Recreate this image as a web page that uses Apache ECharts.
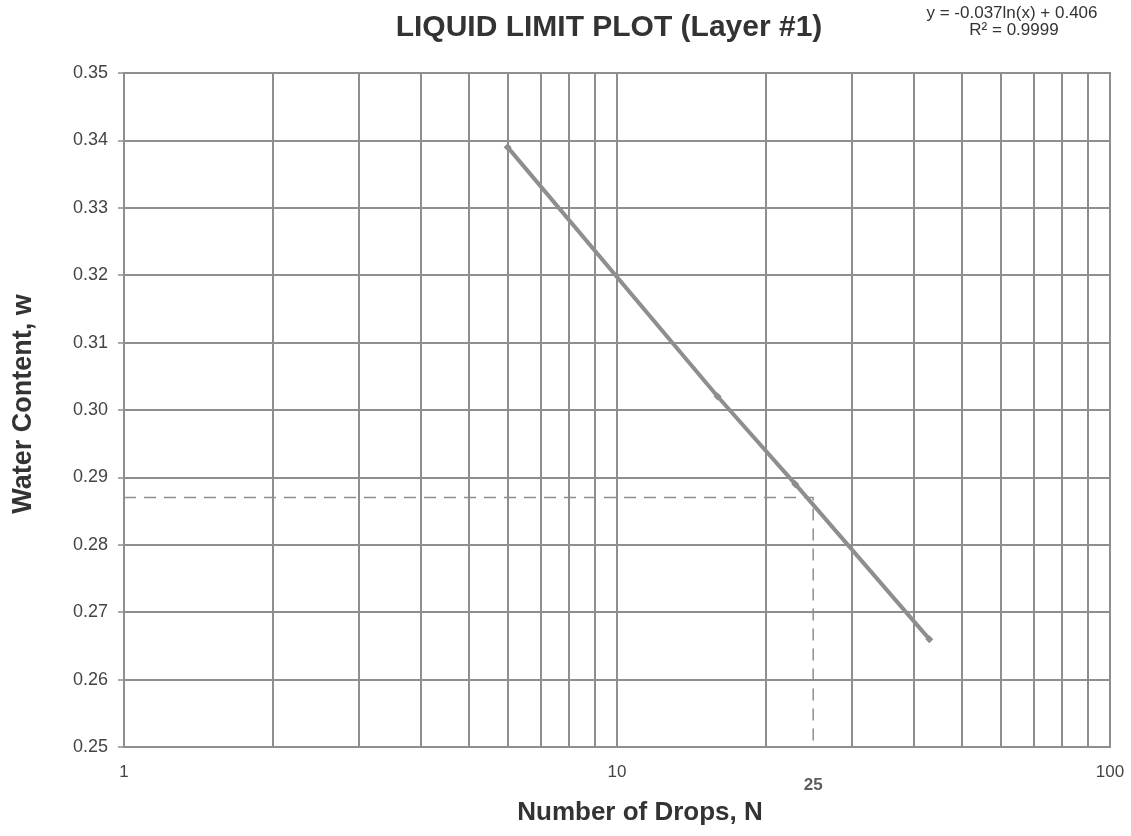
<!DOCTYPE html>
<html>
<head>
<meta charset="utf-8">
<script src="https://cdn.jsdelivr.net/npm/echarts@6/dist/echarts.min.js"></script>
<style>
  html, body { margin: 0; padding: 0; background: #fff; }
  #chart { width: 1131px; height: 836px; }
</style>
</head>
<body>
<div id="chart"></div>
<script>
// measured blow counts and water contents
var drops = [6, 16, 23, 43];
var water = [0.339, 0.302, 0.289, 0.266];
// liquid limit read at 25 drops
var llDrops = 25;
var llWater = 0.287;
// log grid lines
var gridN = [2, 3, 4, 5, 6, 7, 8, 9, 10, 20, 30, 40, 50, 60, 70, 80, 90];
var xLabels = [1, 10, 100];

var chart = echarts.init(document.getElementById('chart'));
var gray = '#8e8e8e';
var font = 'Liberation Sans';

var pts = drops.map(function (d, i) { return [d, water[i]]; });

chart.setOption({
  backgroundColor: '#fff',
  animation: false,
  graphic: [
    {
      type: 'text', x: 609, y: 28,
      style: { text: 'LIQUID LIMIT PLOT (Layer #1)', font: 'bold 30px "Liberation Sans"',
               fill: '#333', align: 'center', verticalAlign: 'middle' }
    },
    {
      type: 'text', x: 1012, y: 13,
      style: { text: 'y = -0.037ln(x) + 0.406', font: '17px "Liberation Sans"',
               fill: '#333', align: 'center', verticalAlign: 'middle' }
    },
    {
      type: 'text', x: 1014, y: 30,
      style: { text: 'R² = 0.9999', font: '17px "Liberation Sans"',
               fill: '#333', align: 'center', verticalAlign: 'middle' }
    },
    {
      type: 'text', x: 640, y: 813,
      style: { text: 'Number of Drops, N', font: 'bold 26px "Liberation Sans"',
               fill: '#333', align: 'center', verticalAlign: 'middle' }
    },
    {
      type: 'text', x: 24, y: 404, rotation: Math.PI / 2,
      style: { text: 'Water Content, w', font: 'bold 27px "Liberation Sans"',
               fill: '#333', align: 'center', verticalAlign: 'middle' }
    }
  ],
  grid: { left: 124, right: 21, top: 73, bottom: 89, show: true, borderColor: gray, borderWidth: 2 },
  xAxis: {
    type: 'log', logBase: 10, min: 1, max: 100,
    axisLine: { show: false },
    axisTick: { show: false },
    splitLine: { show: false },
    axisLabel: {
      fontFamily: font, fontSize: 17, color: '#444', margin: 17,
      formatter: function (v) { return xLabels.indexOf(Math.round(v)) >= 0 ? String(Math.round(v)) : ''; }
    }
  },
  yAxis: {
    type: 'value', min: 0.25, max: 0.35, interval: 0.01,
    axisLine: { show: false },
    axisTick: { show: true, length: 6, lineStyle: { color: gray, width: 1.5 } },
    splitLine: { show: true, lineStyle: { color: gray, width: 2 } },
    axisLabel: {
      fontFamily: font, fontSize: 18, color: '#444', margin: 16,
      formatter: function (v) { return v.toFixed(2); }
    }
  },
  series: [
    {
      type: 'line', silent: true, symbol: 'none',
      data: [[1, llWater], [llDrops, llWater], [llDrops, 0.25]],
      lineStyle: { color: gray, width: 1.5, type: [12, 8] },
      markLine: {
        silent: true, symbol: 'none', label: { show: false },
        lineStyle: { color: gray, width: 2, type: 'solid' },
        data: gridN.map(function (n) { return { xAxis: n }; })
      },
      z: 1
    },
    {
      type: 'scatter', silent: true, symbolSize: 0, clip: false,
      data: [[llDrops, 0.25]],
      label: {
        show: true, position: 'bottom', distance: 30, formatter: String(llDrops),
        fontFamily: font, fontSize: 17, fontWeight: 'bold', color: '#333'
      }
    },
    {
      type: 'line', silent: true, data: pts,
      symbol: 'diamond', symbolSize: 8,
      itemStyle: { color: gray },
      lineStyle: { color: gray, width: 4 },
      z: 3
    }
  ]
});
</script>
</body>
</html>
